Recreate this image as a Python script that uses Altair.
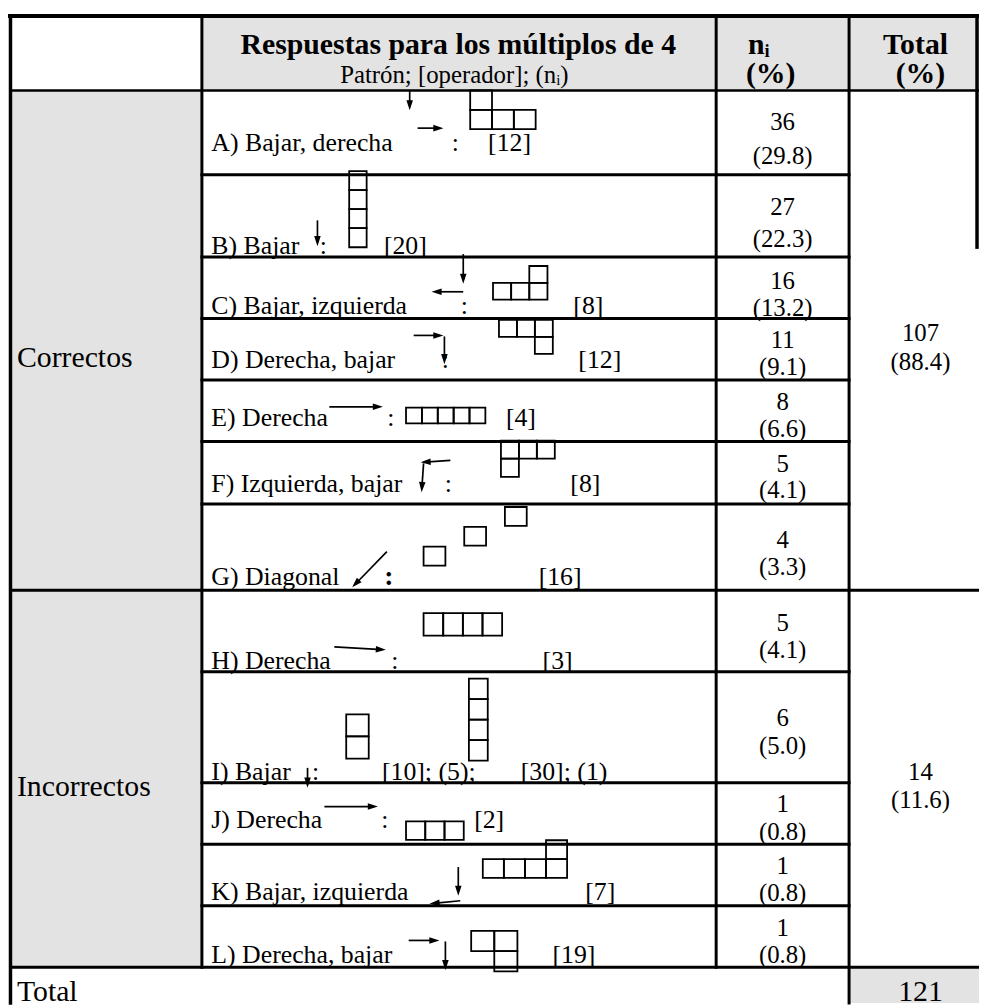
import math
import altair as alt
import pandas as pd

FONT = "Liberation Serif"
GRAY = "#e3e3e3"
INK = "#000000"

# ---------------- data ----------------
header_title = "Respuestas para los múltiplos de 4"
header_subtitle = "Patrón; [operador]; (nᵢ)"
header_count = ["nᵢ", "(%)"]
header_total = ["Total", "(%)"]

letters = ["A", "B", "C", "D", "E", "F", "G", "H", "I", "J", "K", "L"]
patterns = ["Bajar, derecha", "Bajar", "Bajar, izquierda", "Derecha, bajar",
            "Derecha", "Izquierda, bajar", "Diagonal", "Derecha", "Bajar",
            "Derecha", "Bajar, izquierda", "Derecha, bajar"]
operators = ["[12]", "[20]", "[8]", "[12]", "[4]", "[8]", "[16]", "[3]",
             "[10]; (5);", "[2]", "[7]", "[19]"]
extra_operator = "[30]; (1)"
counts = [36, 27, 16, 11, 8, 5, 4, 5, 6, 1, 1, 1]
percents = [29.8, 22.3, 13.2, 9.1, 6.6, 4.1, 3.3, 4.1, 5.0, 0.8, 0.8, 0.8]
has_colon = [True, True, True, True, True, True, True, True, True, True, False, False]

categories = ["Correctos", "Incorrectos"]
category_counts = [107, 14]
category_percents = [88.4, 11.6]
total_label = "Total"
total_count = 121

# polyomino drawn for each answer: (column, row) of each unit square
shape_cells = [
    [(0, 0), (0, 1), (1, 1), (2, 1)],
    [(0, 0), (0, 1), (0, 2), (0, 3)],
    [(2, 0), (0, 1), (1, 1), (2, 1)],
    [(0, 0), (1, 0), (2, 0), (2, 1)],
    [(0, 0), (1, 0), (2, 0), (3, 0), (4, 0)],
    [(0, 0), (1, 0), (2, 0), (0, 1)],
    [(0, 2), (2, 1), (4, 0)],
    [(0, 0), (1, 0), (2, 0), (3, 0)],
    [(0, 0), (0, 1)],
    [(0, 0), (1, 0), (2, 0)],
    [(3, 0), (0, 1), (1, 1), (2, 1), (3, 1)],
    [(0, 0), (1, 0), (1, 1)],
]
extra_shape_cells = [(0, 0), (0, 1), (0, 2), (0, 3)]

# ---------------- layout (pixel positions) ----------------
X_LEFT, X_C1, X_C2, X_C3, X_RIGHT, X_END = 10.5, 203.5, 722, 856, 985, 987
Y_TOP, Y_HEAD, Y_END = 12, 87, 1007
row_bottoms = [172, 255, 317, 379, 441, 504, 591, 673, 785, 847, 909, 971]
label_base = [148, 252, 312, 367, 425, 492, 586, 670, 782, 831, 903, 967]
n_base = [127, 213, 287, 347, 409, 472, 548, 632, 728, 815, 877, 940]
pct_base = [161, 245, 314, 374, 436, 498, 576, 659, 756, 843, 904, 967]
op_x = [492, 387, 578, 583, 510, 575, 543, 547, 385, 478, 590, 557]
colon_x = [459, 326, 468, 449, 394, 452, 392, 398, 318, 388, 0, 0]
# shape placement: x0, y0, step x, step y, square w, square h
shape_place = [
    (474, 87, 22, 19.5, 22, 19.5),
    (352, 168.3, 17.6, 19.2, 17.6, 19.2),
    (497, 264, 18.3, 17, 18.3, 17),
    (503, 318.3, 18.1, 17.2, 18.1, 17.2),
    (409.3, 406.7, 16, 16, 16, 16),
    (505, 440, 18.1, 18.3, 18.1, 18.3),
    (427, 507, 20.5, 20, 22, 19),
    (427, 614, 19.8, 22.7, 19.8, 22.7),
    (349, 716, 22.7, 22.3, 22.7, 22.3),
    (409.3, 824, 19.4, 18.7, 19.4, 18.7),
    (486.7, 843, 21.25, 19, 21.25, 19),
    (475, 934.3, 23.3, 20.5, 23.3, 20.5),
]
extra_shape_place = (472.7, 680, 19, 20.7, 19, 20.7)
extra_op_x = 525
# arrows per row: (x1, y1, x2 tip, y2 tip)
arrows = [
    [(413, 87, 413, 107), (421, 125, 447, 125)],
    [(320, 218, 320, 244)],
    [(467, 252, 467, 282), (467, 290, 435, 290)],
    [(417, 334, 447, 334), (448, 335, 448, 363)],
    [(332, 406, 386, 406)],
    [(454, 460, 424, 462), (427, 463, 425, 492)],
    [(390, 552, 355, 588)],
    [(337, 648, 389, 651)],
    [(310, 770, 310, 790)],
    [(327, 809, 381, 809)],
    [(462, 870, 462, 899), (464, 904, 433, 907)],
    [(412, 944, 443, 944), (449, 945, 449, 974)],
]
N_X, TOT_X = 789, 928
cat_label_x = 17
cat_base = [366, 798]
cat_count_base = [340, 782]
cat_pct_base = [369, 810]
total_base = 1005

XS = alt.Scale(domain=[8, X_END], nice=False, zero=False)
YS = alt.Scale(domain=[8, Y_END], nice=False, zero=False, reverse=True)


def X(f="x"):
    return alt.X(f + ":Q", scale=XS, axis=None)


def Y(f="y"):
    return alt.Y(f + ":Q", scale=YS, axis=None)


# ---------------- fills ----------------
fills = pd.DataFrame([
    (X_C1, X_END, Y_TOP, Y_HEAD, GRAY),
    (X_LEFT, X_C1, Y_HEAD, row_bottoms[-1], GRAY),
    (X_C3, X_END, row_bottoms[-1], Y_END, GRAY),
], columns=["x", "x2", "y", "y2", "c"])
fill_layer = alt.Chart(fills).mark_rect().encode(
    x=X(), x2=alt.X2("x2:Q"), y=Y(), y2=alt.Y2("y2:Q"),
    color=alt.Color("c:N", scale=None))

# ---------------- grid lines ----------------
lines = [(8.5, X_END, Y_TOP, Y_TOP, 4), (X_LEFT, X_END, Y_HEAD, Y_HEAD, 2.6)]
for i, yb in enumerate(row_bottoms):
    if i in (6, 11):
        lines.append((X_LEFT, X_END, yb, yb, 3))
    else:
        lines.append((X_C1, X_C3, yb, yb, 3))
lines += [
    (X_LEFT, X_LEFT, Y_TOP, Y_END, 3.5),
    (X_C1, X_C1, Y_TOP, row_bottoms[-1], 3),
    (X_C2, X_C2, Y_TOP, row_bottoms[-1], 3),
    (X_C3, X_C3, Y_TOP, Y_END, 3),
    (X_RIGHT, X_RIGHT, Y_TOP, 245, 3.5),
]
lines_df = pd.DataFrame(lines, columns=["x", "x2", "y", "y2", "w"])
line_layer = alt.Chart(lines_df).mark_rule(color=INK, strokeCap="square").encode(
    x=X(), x2=alt.X2("x2:Q"), y=Y(), y2=alt.Y2("y2:Q"),
    strokeWidth=alt.StrokeWidth("w:Q", scale=None))

# ---------------- squares ----------------
sq = []


def add_shape(cells, place):
    x0, y0, sx, sy, w, h = place
    for (ci, cj) in cells:
        sq.append((x0 + ci * sx, x0 + ci * sx + w, y0 + cj * sy, y0 + cj * sy + h))


for cells, place in zip(shape_cells, shape_place):
    add_shape(cells, place)
add_shape(extra_shape_cells, extra_shape_place)
sq_df = pd.DataFrame(sq, columns=["x", "x2", "y", "y2"])
sq_layer = alt.Chart(sq_df).mark_rect(fillOpacity=0, stroke=INK, strokeWidth=1.8).encode(
    x=X(), x2=alt.X2("x2:Q"), y=Y(), y2=alt.Y2("y2:Q"))

# ---------------- arrows ----------------
shafts, heads = [], []
R = 6.0
for row in arrows:
    for (x1, y1, x2, y2) in row:
        dx, dy = x2 - x1, y2 - y1
        L = math.hypot(dx, dy)
        ux, uy = dx / L, dy / L
        shafts.append((x1, x2 - ux * 4, y1, y2 - uy * 4))
        ang = math.degrees(math.atan2(ux, -uy)) % 360
        heads.append((x2 - ux * R, y2 - uy * R, ang))
shaft_df = pd.DataFrame(shafts, columns=["x", "x2", "y", "y2"])
head_df = pd.DataFrame(heads, columns=["x", "y", "a"])
shaft_layer = alt.Chart(shaft_df).mark_rule(color=INK, strokeWidth=1.7).encode(
    x=X(), x2=alt.X2("x2:Q"), y=Y(), y2=alt.Y2("y2:Q"))
head_layer = alt.Chart(head_df).mark_point(
    shape="M0,-1L-0.55,0.7L0.55,0.7Z", filled=True, color=INK, opacity=1, size=144
).encode(x=X(), y=Y(), angle=alt.Angle("a:Q", scale=None))

# ---------------- texts ----------------
reg_left, reg_center, bold_center = [], [], []
for i in range(len(letters)):
    reg_left.append((213, label_base[i], f"{letters[i]}) {patterns[i]}", 26))
    reg_left.append((op_x[i], label_base[i], operators[i], 26))
    if has_colon[i] and letters[i] != "G":
        reg_center.append((colon_x[i], label_base[i], ":", 26))
    reg_center.append((N_X, n_base[i], str(counts[i]), 25))
    reg_center.append((N_X, pct_base[i], f"({percents[i]:.1f})", 25))
reg_left.append((extra_op_x, label_base[8], extra_operator, 26))
bold_center.append((colon_x[6], label_base[6], ":", 28))
for k in range(2):
    reg_left.append((cat_label_x, cat_base[k], categories[k], 30))
    reg_center.append((TOT_X, cat_count_base[k], str(category_counts[k]), 25))
    reg_center.append((TOT_X, cat_pct_base[k], f"({category_percents[k]:.1f})", 25))
reg_left.append((cat_label_x, total_base, total_label, 30))
reg_center.append((TOT_X, total_base, str(total_count), 30))
reg_center.append((458, 80, header_subtitle, 25))
bold_center += [
    (462, 50, header_title, 30),
    (765, 50, header_count[0], 30),
    (777, 80, header_count[1], 30),
    (923, 50, header_total[0], 30),
    (928, 80, header_total[1], 30),
]


def text_layer(rows, align, weight):
    df = pd.DataFrame(rows, columns=["x", "y", "t", "s"])
    return alt.Chart(df).mark_text(
        align=align, baseline="alphabetic", font=FONT, fontWeight=weight, color=INK
    ).encode(x=X(), y=Y(), text="t:N", size=alt.Size("s:Q", scale=None, legend=None))


chart = alt.layer(
    fill_layer,
    text_layer(reg_left, "left", "normal"),
    text_layer(reg_center, "center", "normal"),
    text_layer(bold_center, "center", "bold"),
    sq_layer,
    shaft_layer,
    head_layer,
    line_layer,
).properties(width=979, height=999, padding=0, autosize="none").configure_view(stroke=None)

chart.save("out.html", embed_options={"renderer": "svg", "actions": False})
